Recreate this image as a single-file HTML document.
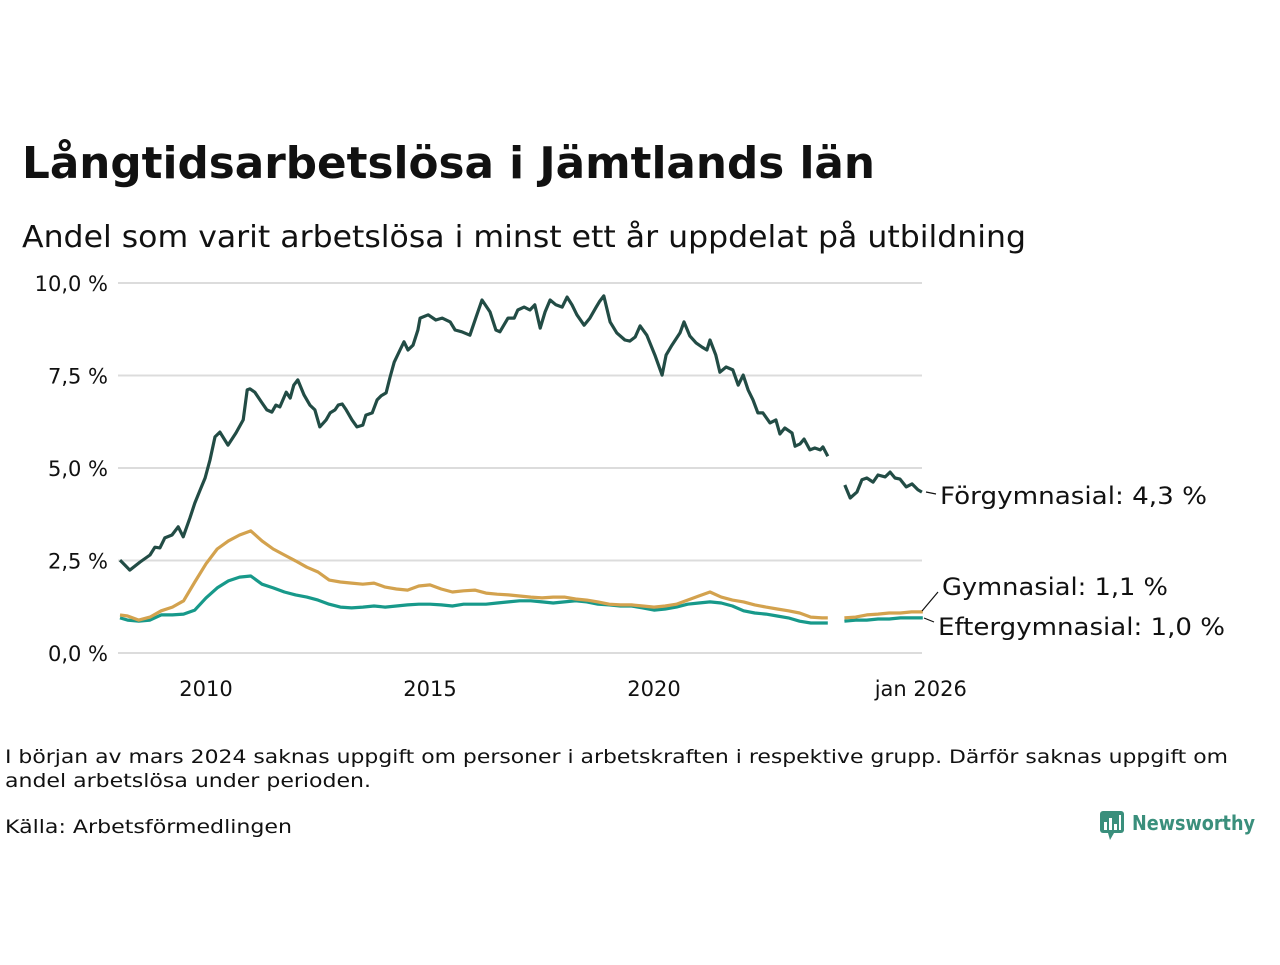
<!DOCTYPE html>
<html><head><meta charset="utf-8"><style>
body{margin:0;background:#fff;}
svg text{font-family:"DejaVu Sans","Liberation Sans",sans-serif;fill:#111;}
</style></head><body>
<svg id="chart" width="1280" height="960" viewBox="0 0 1280 960" xmlns="http://www.w3.org/2000/svg">
<rect width="1280" height="960" fill="#fff"/>
<text x="22" y="178" font-size="44" font-weight="bold" textLength="853" lengthAdjust="spacingAndGlyphs">Långtidsarbetslösa i Jämtlands län</text>
<text x="22" y="247" font-size="30" textLength="1004" lengthAdjust="spacingAndGlyphs">Andel som varit arbetslösa i minst ett år uppdelat på utbildning</text>
<g id="grid"></g>
<g id="series"></g>
<text x="940" y="504" font-size="24" textLength="267" lengthAdjust="spacingAndGlyphs">Förgymnasial: 4,3 %</text>
<text x="942" y="595" font-size="24" textLength="226" lengthAdjust="spacingAndGlyphs">Gymnasial: 1,1 %</text>
<text x="938" y="635" font-size="24" textLength="287" lengthAdjust="spacingAndGlyphs">Eftergymnasial: 1,0 %</text>
<line x1="926" y1="492" x2="936" y2="494" stroke="#111" stroke-width="1.2"/>
<line x1="922" y1="611" x2="938" y2="592" stroke="#111" stroke-width="1.2"/>
<line x1="924" y1="618" x2="934" y2="622" stroke="#111" stroke-width="1.2"/>
<text x="5" y="763" font-size="19" textLength="1223" lengthAdjust="spacingAndGlyphs">I början av mars 2024 saknas uppgift om personer i arbetskraften i respektive grupp. Därför saknas uppgift om</text>
<text x="5" y="787" font-size="19" textLength="366" lengthAdjust="spacingAndGlyphs">andel arbetslösa under perioden.</text>
<text x="5" y="833" font-size="19" textLength="287" lengthAdjust="spacingAndGlyphs">Källa: Arbetsförmedlingen</text>
<g>
<rect x="1100" y="811" width="24" height="22" rx="3" fill="#3a8f7c"/>
<polygon points="1108,833 1114,833 1110,840" fill="#3a8f7c"/>
<rect x="1104" y="822" width="3" height="8" fill="#fff"/><rect x="1109" y="818" width="3" height="12" fill="#fff"/><rect x="1114" y="824" width="3" height="6" fill="#fff"/><rect x="1119" y="815" width="2" height="15" fill="#fff"/>
<text x="1132" y="830" font-size="20" font-weight="bold" style="fill:#3a8f7c" textLength="123" lengthAdjust="spacingAndGlyphs">Newsworthy</text>
</g>
</svg>
<script>
const yTicks=[0,2.5,5,7.5,10];
const yTickLabels=["0,0 %","2,5 %","5,0 %","7,5 %","10,0 %"];
const xTicks=[2010,2015,2020,2026];
const xTickLabels=["2010","2015","2020","jan 2026"];
const darkDates=[2008.08,2008.30,2008.53,2008.75,2008.86,2008.97,2009.08,2009.24,2009.38,2009.49,2009.64,2009.75,2009.87,2009.98,2010.09,2010.20,2010.31,2010.49,2010.67,2010.83,2010.92,2010.98,2011.09,2011.25,2011.36,2011.47,2011.56,2011.65,2011.79,2011.88,2011.96,2012.05,2012.19,2012.32,2012.43,2012.54,2012.68,2012.77,2012.88,2012.95,2013.04,2013.13,2013.26,2013.37,2013.50,2013.57,2013.71,2013.82,2013.91,2014.02,2014.11,2014.20,2014.33,2014.42,2014.51,2014.62,2014.73,2014.78,2014.96,2015.13,2015.27,2015.45,2015.56,2015.71,2015.89,2016.03,2016.16,2016.34,2016.47,2016.56,2016.74,2016.88,2016.96,2017.10,2017.23,2017.34,2017.46,2017.57,2017.68,2017.81,2017.95,2018.06,2018.17,2018.28,2018.44,2018.57,2018.71,2018.79,2018.88,2019.02,2019.17,2019.35,2019.46,2019.58,2019.69,2019.84,2020.02,2020.18,2020.27,2020.40,2020.58,2020.67,2020.80,2020.94,2021.07,2021.18,2021.25,2021.38,2021.47,2021.61,2021.76,2021.88,2021.99,2022.10,2022.21,2022.32,2022.43,2022.59,2022.72,2022.81,2022.92,2023.08,2023.15,2023.26,2023.35,2023.48,2023.59,2023.71,2023.77,2023.88,2024.26,2024.38,2024.53,2024.64,2024.75,2024.89,2025.00,2025.16,2025.27,2025.38,2025.49,2025.63,2025.76,2025.89,2025.98];
const forgymnasial=[2.51,2.24,2.46,2.65,2.86,2.84,3.11,3.19,3.41,3.14,3.65,4.05,4.41,4.73,5.22,5.84,5.97,5.62,5.95,6.30,7.11,7.14,7.05,6.76,6.57,6.51,6.70,6.65,7.05,6.89,7.24,7.38,6.97,6.70,6.57,6.11,6.30,6.49,6.57,6.70,6.73,6.57,6.30,6.11,6.16,6.43,6.49,6.84,6.95,7.03,7.46,7.86,8.19,8.41,8.19,8.32,8.73,9.05,9.14,9.00,9.05,8.95,8.73,8.68,8.59,9.08,9.54,9.22,8.73,8.68,9.05,9.05,9.27,9.35,9.27,9.41,8.78,9.22,9.54,9.41,9.35,9.62,9.41,9.14,8.86,9.05,9.35,9.51,9.65,8.95,8.65,8.46,8.43,8.54,8.84,8.59,8.05,7.51,8.05,8.32,8.65,8.95,8.57,8.38,8.27,8.19,8.46,8.05,7.59,7.73,7.65,7.24,7.51,7.11,6.84,6.49,6.49,6.22,6.30,5.92,6.08,5.95,5.59,5.65,5.78,5.49,5.54,5.49,5.57,5.32,4.54,4.19,4.35,4.68,4.73,4.62,4.81,4.76,4.89,4.73,4.70,4.49,4.57,4.41,4.35];
const eduDates=[2008.08,2008.25,2008.5,2008.75,2009,2009.25,2009.5,2009.75,2010,2010.25,2010.5,2010.75,2011,2011.25,2011.5,2011.75,2012,2012.25,2012.5,2012.75,2013,2013.25,2013.5,2013.75,2014,2014.25,2014.5,2014.75,2015,2015.25,2015.5,2015.75,2016,2016.25,2016.5,2016.75,2017,2017.25,2017.5,2017.75,2018,2018.25,2018.5,2018.75,2019,2019.25,2019.5,2019.75,2020,2020.25,2020.5,2020.75,2021,2021.25,2021.5,2021.75,2022,2022.25,2022.5,2022.75,2023,2023.25,2023.5,2023.75,2023.88,2024.25,2024.5,2024.75,2025,2025.25,2025.5,2025.75,2026];
const gymnasial=[1.03,1.00,0.89,0.97,1.14,1.24,1.41,1.92,2.41,2.81,3.03,3.19,3.30,3.03,2.81,2.65,2.49,2.32,2.19,1.97,1.92,1.89,1.86,1.89,1.78,1.73,1.70,1.81,1.84,1.73,1.65,1.68,1.70,1.62,1.59,1.57,1.54,1.51,1.49,1.51,1.51,1.46,1.43,1.38,1.32,1.30,1.30,1.27,1.24,1.27,1.32,1.43,1.54,1.65,1.51,1.43,1.38,1.30,1.24,1.19,1.14,1.08,0.97,0.95,0.95,0.95,0.97,1.03,1.05,1.08,1.08,1.11,1.11];
const eftergymnasial=[0.95,0.89,0.86,0.89,1.03,1.03,1.05,1.16,1.49,1.76,1.95,2.05,2.08,1.86,1.76,1.65,1.57,1.51,1.43,1.32,1.24,1.22,1.24,1.27,1.24,1.27,1.30,1.32,1.32,1.30,1.27,1.32,1.32,1.32,1.35,1.38,1.41,1.41,1.38,1.35,1.38,1.41,1.38,1.32,1.30,1.27,1.27,1.22,1.16,1.19,1.24,1.32,1.35,1.38,1.35,1.27,1.14,1.08,1.05,1.00,0.95,0.86,0.81,0.81,0.81,0.86,0.89,0.89,0.92,0.92,0.95,0.95,0.95];

const NS="http://www.w3.org/2000/svg";
const xScale=t=>206+(t-2010)*44.8;
const yScale=v=>653-v*37;
const grid=document.getElementById('grid');
const ser=document.getElementById('series');
yTicks.forEach((v,i)=>{
  const l=document.createElementNS(NS,'line');
  
  
  l.setAttribute('x1',118);l.setAttribute('x2',922);
  l.setAttribute('y1',yScale(v));l.setAttribute('y2',yScale(v));
  l.setAttribute('stroke','#dcdcdc');l.setAttribute('stroke-width','2');
  grid.appendChild(l);
  const t=document.createElementNS(NS,'text');
  
  
  t.setAttribute('x',108);t.setAttribute('y',yScale(v)+8);
  t.setAttribute('text-anchor','end');t.setAttribute('font-size','21');
  t.textContent=yTickLabels[i];
  grid.appendChild(t);
});
xTicks.forEach((v,i)=>{
  const t=document.createElementNS(NS,'text');
  
  
  t.setAttribute('x',i===3?xScale(v)-2:xScale(v));t.setAttribute('y',696);
  t.setAttribute('text-anchor','middle');t.setAttribute('font-size','21');
  t.textContent=xTickLabels[i];
  grid.appendChild(t);
});
function drawLine(dates,vals,color,name){
  let d='',prev=null;
  dates.forEach((t,i)=>{
    const cmd=(prev===null||t-prev>0.3)?'M':'L';
    d+=cmd+xScale(t).toFixed(1)+','+yScale(vals[i]).toFixed(1)+' ';
    prev=t;
  });
  const p=document.createElementNS(NS,'path');
  
  
  p.setAttribute('d',d);p.setAttribute('fill','none');
  p.setAttribute('stroke',color);p.setAttribute('stroke-width','3.2');
  p.setAttribute('stroke-linejoin','round');
  ser.appendChild(p);
}
drawLine(eduDates,eftergymnasial,'#17998a','line-eftergymnasial');
drawLine(eduDates,gymnasial,'#d3a24e','line-gymnasial');
drawLine(darkDates,forgymnasial,'#224c45','line-forgymnasial');
</script>
</body></html>
